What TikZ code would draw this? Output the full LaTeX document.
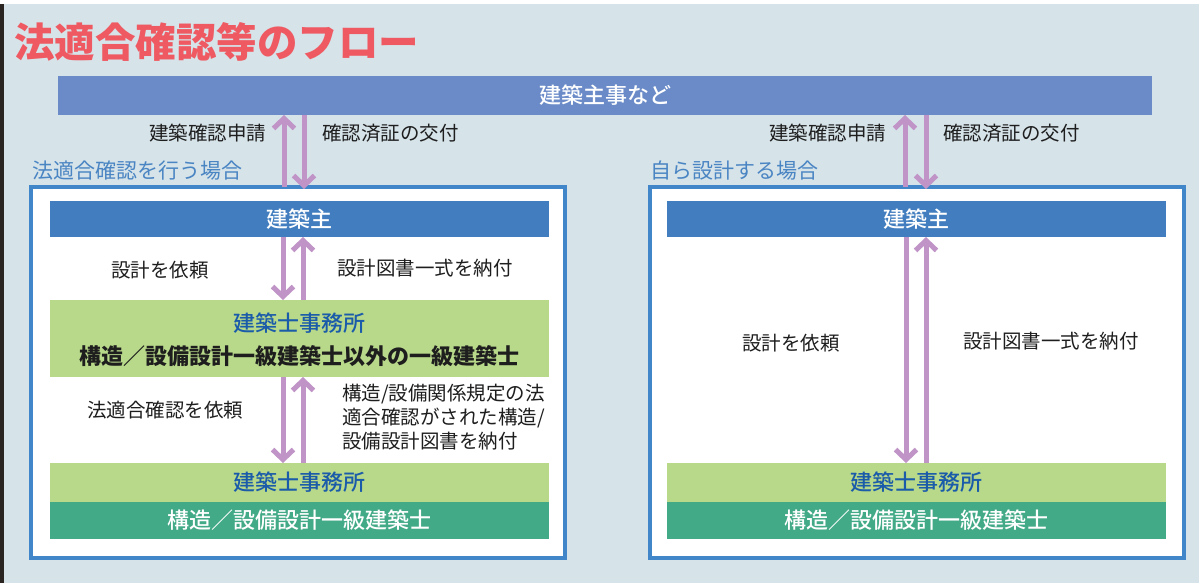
\documentclass[tikz,border=0pt]{standalone}
\usepackage{fontspec}
\setmainfont{Noto Sans CJK JP}
\newfontfamily\jpmed{Noto Sans CJK JP Medium}
\newfontfamily\jpblack{Noto Sans CJK JP Black}
\usetikzlibrary{arrows.meta}
\definecolor{bg}{HTML}{D6E3E9}
\definecolor{strip}{HTML}{2A2520}
\definecolor{titlered}{HTML}{EF5A62}
\definecolor{topbar}{HTML}{6A8BC8}
\definecolor{secblue}{HTML}{4A85C3}
\definecolor{framec}{HTML}{4086C8}
\definecolor{ownerc}{HTML}{417DBF}
\definecolor{lgreen}{HTML}{B8D98A}
\definecolor{dgreen}{HTML}{43AA87}
\definecolor{bluetxt}{HTML}{1A5BAA}
\definecolor{arrowc}{HTML}{C194C7}
\definecolor{txtc}{HTML}{1E1E1E}
\begin{document}
\begin{tikzpicture}[x=1pt,y=-1pt,
  bar/.style={rectangle, inner sep=0pt, outer sep=0pt, draw=none, minimum width=499pt,
    font=\fontsize{22}{26}\selectfont\jpmed, text height=16.7pt, text depth=0pt},
  frame/.style={rectangle, inner sep=0pt, outer sep=0pt, draw=framec, line width=4pt, fill=white,
    minimum width=534pt, minimum height=371pt},
  lbl/.style={inner sep=0pt, outer sep=0pt, text=txtc, font=\fontsize{19.5}{24}\selectfont,
    text height=14.8pt, text depth=0pt},
  sec/.style={inner sep=0pt, outer sep=0pt, text=secblue, font=\fontsize{21}{25}\selectfont,
    text height=16pt, text depth=0pt, anchor=west},
  btxt/.style={inner sep=0pt, outer sep=0pt, font=\fontsize{22}{26}\selectfont\jpmed,
    text height=16.7pt, text depth=0pt},
  arr/.style={draw=arrowc, line width=5pt, -{Straight Barb[length=10pt,width=21pt]}}
]
\useasboundingbox (0,0) rectangle (1199,583);
\fill[bg] (0,0) rectangle (1199,583);
\fill[white] (0,0) rectangle (1199,4.5);
\fill[strip] (0,4.5) rectangle (3.5,583);

% title
\node[inner sep=0pt, anchor=west, text=titlered, font=\fontsize{40.5}{44}\selectfont\jpblack,
  text height=30.8pt, text depth=0pt] (title) at (14,42) {法適合確認等のフロー};

% top bar
\node[bar, fill=topbar, text=white, minimum width=1094pt, minimum height=39pt] (top) at (605,95.5) {建築主事など};

% section labels
\node[sec] (secL) at (32,170) {法適合確認を行う場合};
\node[sec] (secR) at (650,170) {自ら設計する場合};

% frames
\node[frame] (lframe) at (298,372.5) {};
\node[frame] (rframe) at (916.5,372.5) {};

% left boxes
\node[bar, fill=ownerc, text=white, minimum height=36pt] (lowner) at (299.5,219) {建築主};
\node[bar, fill=lgreen, minimum height=77pt] (loff1) at (299.5,338.5) {};
\node[btxt, text=bluetxt] (loff1a) at (299.5,323) {建築士事務所};
\node[btxt, text=txtc, font=\fontsize{22}{26}\selectfont\bfseries] (loff1b) at (299.5,356) {構造／設備設計一級建築士以外の一級建築士};
\node[bar, fill=lgreen, text=bluetxt, minimum height=39pt] (loff2) at (299.5,482.5) {建築士事務所};
\node[bar, fill=dgreen, text=white, minimum height=37pt] (leng) at (299.5,520.5) {構造／設備設計一級建築士};

% right boxes
\node[bar, fill=ownerc, text=white, minimum height=36pt] (rowner) at (916.5,219) {建築主};
\node[bar, fill=lgreen, text=bluetxt, minimum height=39pt] (roff) at (916.5,482.5) {建築士事務所};
\node[bar, fill=dgreen, text=white, minimum height=37pt] (reng) at (916.5,520.5) {構造／設備設計一級建築士};

% arrow x positions
\coordinate (xa) at (284,0);
\coordinate (xb) at (304,0);
\coordinate (xc) at (283,0);
\coordinate (xd) at (303,0);
\coordinate (xe) at (905,0);
\coordinate (xf) at (926,0);
\coordinate (xg) at (906,0);
\coordinate (xh) at (926,0);

% top arrows left
\draw[arr] (lframe.north -| xa) -- (top.south -| xa);
\draw[arr] (top.south -| xb) -- ([yshift=-2pt]lframe.north -| xb);
% top arrows right
\draw[arr] (rframe.north -| xe) -- (top.south -| xe);
\draw[arr] (top.south -| xf) -- ([yshift=-2pt]rframe.north -| xf);

% left inner arrows
\draw[arr] (lowner.south -| xc) -- (loff1.north -| xc);
\draw[arr] (loff1.north -| xd) -- (lowner.south -| xd);
\draw[arr] (loff1.south -| xc) -- (loff2.north -| xc);
\draw[arr] (loff2.north -| xd) -- (loff1.south -| xd);

% right inner arrows
\draw[arr] (rowner.south -| xg) -- (roff.north -| xg);
\draw[arr] (roff.north -| xh) -- (rowner.south -| xh);

% labels top
\node[lbl, anchor=east] (l1) at (266,133) {建築確認申請};
\node[lbl, anchor=west] (l2) at (322,133) {確認済証の交付};
\node[lbl, anchor=east] (l3) at (886,133) {建築確認申請};
\node[lbl, anchor=west] (l4) at (943,133) {確認済証の交付};

% labels left frame
\node[lbl] (l5) at (160,270) {設計を依頼};
\node[lbl, anchor=west] (l6) at (337,268) {設計図書一式を納付};
\node[lbl] (l7) at (165,410) {法適合確認を依頼};
\node[lbl, anchor=west] (l8a) at (342,393) {構造/設備関係規定の法};
\node[lbl, anchor=west] (l8b) at (342,417) {適合確認がされた構造/};
\node[lbl, anchor=west] (l8c) at (342,441) {設備設計図書を納付};

% labels right frame
\node[lbl] (l9) at (791,343) {設計を依頼};
\node[lbl, anchor=west] (l10) at (963,341) {設計図書一式を納付};
\end{tikzpicture}
\end{document}
